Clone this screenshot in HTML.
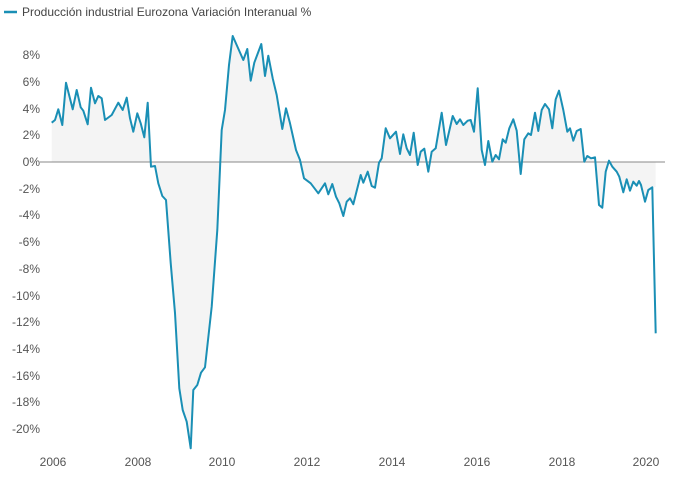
<!DOCTYPE html>
<html><head><meta charset="utf-8"><style>
body{margin:0;background:#fff;}
svg text{font-family:"Liberation Sans",sans-serif;font-size:12px;fill:#555;}
</style></head><body>
<svg width="680" height="476" viewBox="0 0 680 476" xmlns="http://www.w3.org/2000/svg">
<line x1="4" y1="12" x2="17" y2="12" stroke="#1a8fb5" stroke-width="2.5"/>
<text x="22" y="16" style="font-size:12px;fill:#444">Producción industrial Eurozona Variación Interanual %</text>
<g text-anchor="end">
<text x="40" y="59">8%</text><text x="40" y="86">6%</text><text x="40" y="113">4%</text><text x="40" y="139">2%</text><text x="40" y="166">0%</text><text x="40" y="193">-2%</text><text x="40" y="219">-4%</text><text x="40" y="246">-6%</text><text x="40" y="273">-8%</text><text x="40" y="300">-10%</text><text x="40" y="326">-12%</text><text x="40" y="353">-14%</text><text x="40" y="380">-16%</text><text x="40" y="406">-18%</text><text x="40" y="433">-20%</text>
</g>
<g text-anchor="middle">
<text x="53" y="466">2006</text><text x="138" y="466">2008</text><text x="222" y="466">2010</text><text x="307" y="466">2012</text><text x="392" y="466">2014</text><text x="477" y="466">2016</text><text x="562" y="466">2018</text><text x="646" y="466">2020</text>
</g>
<polygon fill="#f4f4f4" points="51.7,162 51.7,122.7 55,120 58.3,109.3 62.3,125 66,82.7 72.7,109.3 76.7,90 80.7,107.3 83.3,110.7 87.7,124.3 91,87.7 95,103.3 98.3,96 101.7,98.3 105,120 111.7,115 118.3,102.7 122.7,110 126.7,97.7 130,118.3 133.3,131.7 137.3,113.3 140.7,123.3 144.3,137.3 147.7,102.7 151,166.7 155,166 158.3,183.3 162.3,196 166,200 170.7,263 175,313 179.3,388.3 182.7,410 186.7,421.7 190.7,448.3 193.3,390 197.3,385 201,372.7 205,367.3 211.7,306.7 217.3,230 221.7,130 225,110 229,65 232.7,36 243.3,60 247.3,49 250.7,80.7 254.3,62.7 261.3,44 265,76 268.3,55.7 272.7,78.3 276.7,95 282.3,129 286,108.3 290,123.3 296,150 300,160 304,178.3 310.7,183.3 318.3,193.3 325,183.3 328.3,194.3 332.3,184 336,196.7 339.3,203.3 343.3,216 346.7,201.7 350,198.3 353.3,204.3 360.7,175 363.3,182.7 367.7,171.7 371.7,186 375,187.7 379,162.7 381.7,158.3 385.7,128.3 390,138.3 396,131.7 400,154 403.3,134.3 406.7,148.3 410,155 413.7,132.7 417.7,165 420.7,151.7 424.3,148.7 428.3,171.7 431.7,151.7 435.7,148.3 441.7,112.7 446,145 452.7,116 456.7,124 460,119.3 463.3,125 467.7,120.7 470.7,120 474,131.7 477.7,88.3 481.7,150 485,165 488.3,141 492.3,161.7 495.7,155 499,159.3 502.7,139.3 505.7,142.7 509.3,128.3 513.3,119.3 516.7,130.7 520.7,174 524.3,139.3 528.3,133.3 531,135 535,112.7 538.3,131 541.7,110 545,104 549,109.3 552.3,128.3 555.7,99.3 559,90.7 563.3,110 567.3,131.7 570,128.3 573.3,140.7 576.7,131 580.7,129 584.3,161.7 587.3,156 591,158.3 595,157.3 599,205 602.3,207.7 605.7,171.7 609,160.7 612.3,166.7 616.7,171.7 619.3,176.7 623.3,192.3 626.7,179.3 630,190.7 633.3,181.7 636.7,185.7 639,181 641,185 645,201.7 648.3,190 652.3,187.3 655.7,187 655.7,162"/>
<line x1="40" y1="162" x2="665" y2="162" stroke="#888" stroke-width="1"/>
<polyline fill="none" stroke="#1a8fb5" stroke-width="2" stroke-linejoin="round" points="51.7,122.7 55,120 58.3,109.3 62.3,125 66,82.7 72.7,109.3 76.7,90 80.7,107.3 83.3,110.7 87.7,124.3 91,87.7 95,103.3 98.3,96 101.7,98.3 105,120 111.7,115 118.3,102.7 122.7,110 126.7,97.7 130,118.3 133.3,131.7 137.3,113.3 140.7,123.3 144.3,137.3 147.7,102.7 151,166.7 155,166 158.3,183.3 162.3,196 166,200 170.7,263 175,313 179.3,388.3 182.7,410 186.7,421.7 190.7,448.3 193.3,390 197.3,385 201,372.7 205,367.3 211.7,306.7 217.3,230 221.7,130 225,110 229,65 232.7,36 243.3,60 247.3,49 250.7,80.7 254.3,62.7 261.3,44 265,76 268.3,55.7 272.7,78.3 276.7,95 282.3,129 286,108.3 290,123.3 296,150 300,160 304,178.3 310.7,183.3 318.3,193.3 325,183.3 328.3,194.3 332.3,184 336,196.7 339.3,203.3 343.3,216 346.7,201.7 350,198.3 353.3,204.3 360.7,175 363.3,182.7 367.7,171.7 371.7,186 375,187.7 379,162.7 381.7,158.3 385.7,128.3 390,138.3 396,131.7 400,154 403.3,134.3 406.7,148.3 410,155 413.7,132.7 417.7,165 420.7,151.7 424.3,148.7 428.3,171.7 431.7,151.7 435.7,148.3 441.7,112.7 446,145 452.7,116 456.7,124 460,119.3 463.3,125 467.7,120.7 470.7,120 474,131.7 477.7,88.3 481.7,150 485,165 488.3,141 492.3,161.7 495.7,155 499,159.3 502.7,139.3 505.7,142.7 509.3,128.3 513.3,119.3 516.7,130.7 520.7,174 524.3,139.3 528.3,133.3 531,135 535,112.7 538.3,131 541.7,110 545,104 549,109.3 552.3,128.3 555.7,99.3 559,90.7 563.3,110 567.3,131.7 570,128.3 573.3,140.7 576.7,131 580.7,129 584.3,161.7 587.3,156 591,158.3 595,157.3 599,205 602.3,207.7 605.7,171.7 609,160.7 612.3,166.7 616.7,171.7 619.3,176.7 623.3,192.3 626.7,179.3 630,190.7 633.3,181.7 636.7,185.7 639,181 641,185 645,201.7 648.3,190 652.3,187.3 655.7,333.3"/>
</svg>
</body></html>
